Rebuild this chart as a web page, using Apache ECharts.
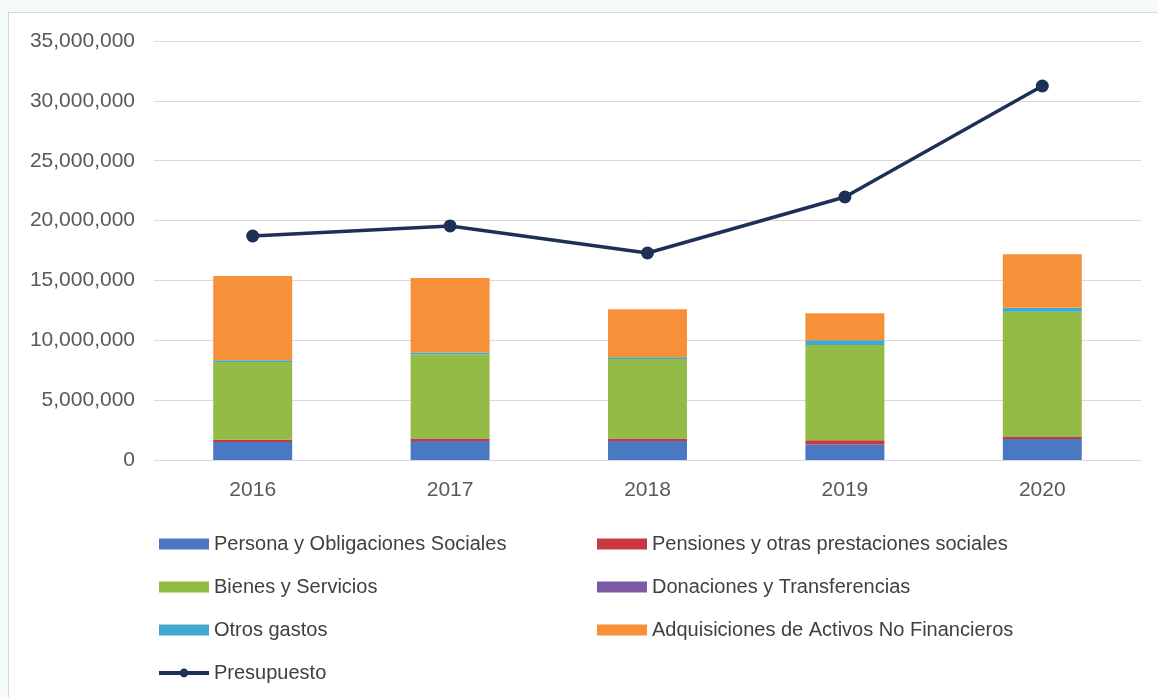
<!DOCTYPE html>
<html>
<head>
<meta charset="utf-8">
<script src="https://cdn.jsdelivr.net/npm/echarts@6/dist/echarts.min.js"></script>
<style>
	html, body { margin:0; padding:0; background:#f5fafb; }
	#frame { position:absolute; left:8px; top:12px; width:1160px; height:700px; background:#fff; border:1px solid #d6d6d6; }
	#main { position:absolute; left:0; top:0; width:1158px; height:697px; }
</style>
</head>
<body>
<div id="frame"></div>
<div id="main"></div>
<script>
(function(){
	'use strict';

	// data
	var years = ['2016', '2017', '2018', '2019', '2020'];
	var personal = [1500000, 1590000, 1590000, 1300000, 1750000];
	var pensiones = [200000, 200000, 200000, 350000, 170000];
	var bienes = [6490000, 7040000, 6650000, 7950000, 10470000];
	var donaciones = [0, 0, 0, 0, 0];
	var otros = [150000, 150000, 150000, 400000, 330000];
	var adquisiciones = [7030000, 6220000, 4010000, 2250000, 4460000];
	var presupuesto = [18710000, 19550000, 17290000, 21970000, 31240000];

	var fontFam = '"Liberation Sans", Arial, sans-serif';

	var myChart = echarts.init(document.getElementById('main'));

	var barSeries = function(name, data, color){
		return {
			name: name,
			type: 'bar',
			stack: 'gastos',
			barWidth: '40%',
			itemStyle: {color: color},
			data: data
		};
	};

	// legend entry helper: square-cornered swatches for the bars
	var rectItem = function(name){ return {name: name, icon: 'rect'}; };

	var legendBase = {
		orient: 'vertical',
		top: 533,
		padding: 0,
		itemWidth: 50, itemHeight: 11, itemGap: 21,
		textStyle: {fontSize: 20, color: '#404040', lineHeight: 22, fontFamily: fontFam}
	};

	var option = {
		animation: false,
		textStyle: {fontFamily: fontFam},
		grid: {left: 154, right: 17, top: 41, bottom: 237, containLabel: false},
		legend: [
			echarts.util.extend({
				left: 157,
				data: [
					rectItem('Persona y Obligaciones Sociales'),
					rectItem('Bienes y Servicios'),
					rectItem('Otros gastos'),
					{name: 'Presupuesto', lineStyle: {width: 4}}
				]
			}, legendBase),
			echarts.util.extend({
				left: 597,
				data: [
					rectItem('Pensiones y otras prestaciones sociales'),
					rectItem('Donaciones y Transferencias'),
					rectItem('Adquisiciones de Activos No Financieros')
				]
			}, legendBase)
		],
		xAxis: {
			type: 'category',
			data: years,
			axisLine: {lineStyle: {color: '#d9d9d9'}},
			axisTick: {show: false},
			axisLabel: {color: '#595959', fontSize: 21, margin: 20}
		},
		yAxis: {
			type: 'value',
			min: 0, max: 35000000, interval: 5000000,
			axisLine: {show: false},
			axisTick: {show: false},
			splitLine: {lineStyle: {color: '#d9d9d9'}},
			axisLabel: {
				color: '#595959', fontSize: 21, margin: 19,
				formatter: function(v){ return v.toString().replace(/\B(?=(\d{3})+(?!\d))/g, ','); }
			}
		},
		series: [
			barSeries('Persona y Obligaciones Sociales', personal, '#4a78c2'),
			barSeries('Pensiones y otras prestaciones sociales', pensiones, '#c8393f'),
			barSeries('Bienes y Servicios', bienes, '#94bb46'),
			barSeries('Donaciones y Transferencias', donaciones, '#7b5aa6'),
			barSeries('Otros gastos', otros, '#3fa9d0'),
			barSeries('Adquisiciones de Activos No Financieros', adquisiciones, '#f79139'),
			{
				name: 'Presupuesto',
				type: 'line',
				data: presupuesto,
				symbol: 'circle',
				symbolSize: 13,
				lineStyle: {color: '#1f3058', width: 3.5},
				itemStyle: {color: '#1f3058'},
				z: 5
			}
		]
	};
	myChart.setOption(option);
})();
</script>
</body>
</html>
